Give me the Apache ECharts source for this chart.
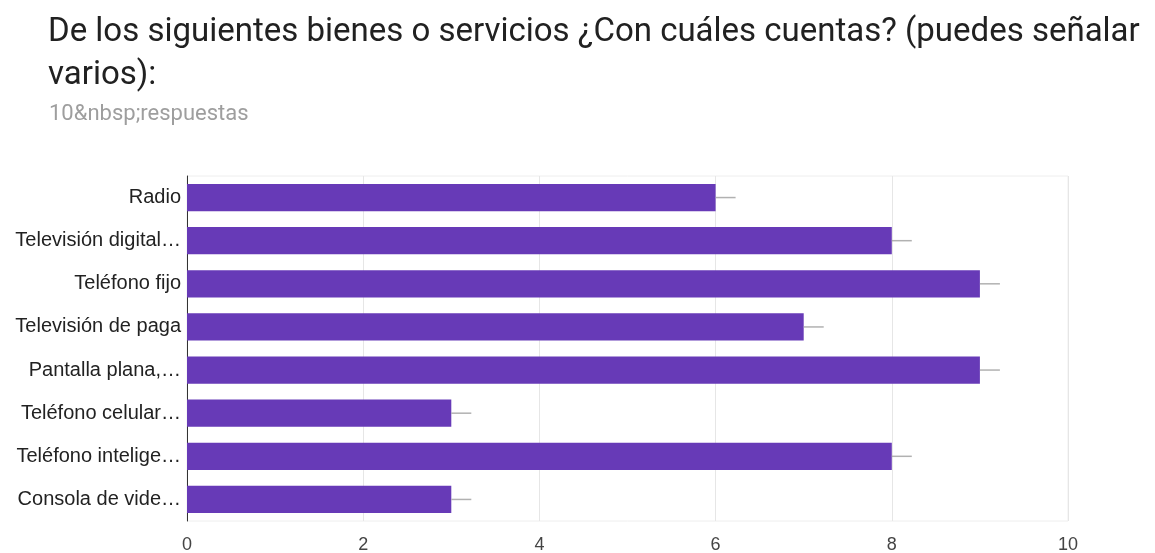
<!DOCTYPE html>
<html>
<head>
<meta charset="utf-8">
<script src="https://cdn.jsdelivr.net/npm/echarts@6/dist/echarts.min.js"></script>
<style>
    html, body { margin: 0; padding: 0; background: #fff; }
    #chart { width: 1155px; height: 553px; }
</style>
</head>
<body>
<div id="chart"></div>
<script>
// datos
const categorias = [
    'Radio',
    'Televisión digital…',
    'Teléfono fijo',
    'Televisión de paga',
    'Pantalla plana,…',
    'Teléfono celular…',
    'Teléfono intelige…',
    'Consola de vide…'
];
const respuestas = [6, 8, 9, 7, 9, 3, 8, 3];
const ticksX = [0, 2, 4, 6, 8, 10];

const titulo = 'De los siguientes bienes o servicios ¿Con cuáles cuentas? (puedes señalar\nvarios):';
const subtitulo = '10&nbsp;respuestas';

let chart = echarts.init(document.getElementById('chart'));
const option = {
    animation: false,
    title: [
        {
            text: titulo,
            left: 48,
            top: 11,
            padding: 0,
            textStyle: {fontFamily: 'Roboto', fontSize: 33, fontWeight: 'normal', color: '#212121', lineHeight: 43}
        },
        {
            text: subtitulo,
            left: 49,
            top: 102,
            padding: 0,
            textStyle: {fontFamily: 'Roboto', fontSize: 22, fontWeight: 'normal', color: '#9e9e9e', lineHeight: 24}
        }
    ],
    grid: {
        left: 187,
        right: 87,
        top: 176,
        bottom: 32,
        outerBoundsMode: 'none',
        show: true,
        borderColor: '#eeeeee',
        borderWidth: 1
    },
    xAxis: {
        type: 'value',
        min: 0,
        max: 10,
        interval: 2,
        axisLine: {show: false},
        axisTick: {show: false},
        splitLine: {lineStyle: {color: '#e6e6e6', width: 1}},
        axisLabel: {
            margin: 15,
            fontFamily: 'Liberation Sans',
            fontSize: 18,
            color: '#444',
            formatter: function (v) { return ticksX.indexOf(v) >= 0 ? String(v) : ''; }
        }
    },
    yAxis: {
        type: 'category',
        inverse: true,
        data: categorias,
        axisLine: {show: true, lineStyle: {color: '#333', width: 1}},
        axisTick: {show: false},
        axisLabel: {margin: 6, fontFamily: 'Liberation Sans', fontSize: 20, color: '#222'}
    },
    series: [
        {
            name: 'Respuestas',
            type: 'bar',
            data: respuestas,
            barCategoryGap: '37%',
            itemStyle: {color: '#673ab7'}
        },
        {
            // la rayita gris al final de cada barra
            name: 'marca',
            type: 'scatter',
            data: respuestas,
            symbol: 'rect',
            symbolSize: [20, 1.5],
            symbolOffset: [10, 0],
            itemStyle: {color: '#9e9e9e'},
            silent: true,
            z: 3
        }
    ]
};
chart.setOption(option);
window.addEventListener('resize', function () {
    chart.resize();
});
</script>
</body>
</html>
